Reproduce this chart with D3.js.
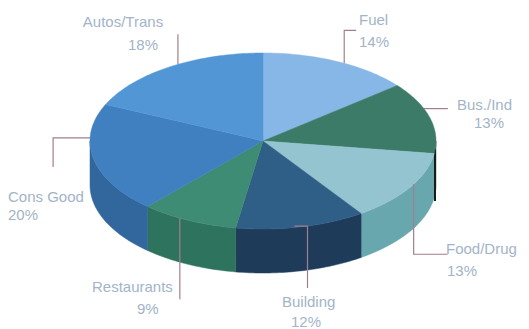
<!DOCTYPE html>
<meta charset="utf-8">
<style>
body { margin: 0; background: #fff; }
.lbl { font-family: "Liberation Sans", Arial, sans-serif; font-size: 15px; fill: #a3b4c8; }
.leader { fill: none; stroke: #a27f8e; stroke-width: 1.2; }
</style>
<svg width="529" height="329"></svg>
<script src="https://cdn.jsdelivr.net/npm/d3@7"></script>
<script>

// data, clockwise from 12 o'clock
var categories = ["Fuel", "Bus./Ind", "Food/Drug", "Building", "Restaurants", "Cons Good", "Autos/Trans"];
var shares = [14, 13, 13, 12, 9, 20, 18];
var pctLabels = ["14%", "13%", "13%", "12%", "9%", "20%", "18%"];

var topColors  = ["#87b7e6", "#3c7b67", "#93c4d0", "#2f5e86", "#3e8c73", "#407fc0", "#5296d6"];
var sideColors = ["#6d9ccc", "#2f6756", "#68a7ad", "#1e3c5a", "#2e735d", "#31679c", "#3f7bb8"];

// label layout: where on the slice the leader starts, leader bends, text spots
var layout = [
  {f: 0.55, leader: [[0, 0], [0, -33], [12, -33]], name: [359, 25, "start"], pct: [359, 47, "start"]},
  {f: 0.37, leader: [[0, 0], [24, 0]], name: [457, 110, "start"], pct: [474, 128, "start"]},
  {f: 0.45, leader: [[0, 0], [0, 70], [34, 70]], name: [446, 254, "start"], pct: [447, 276, "start"]},
  {f: 0.45, leader: [[-13, 0], [0, 0], [0, 62]], name: [282, 307, "start"], pct: [291, 327, "start"]},
  {f: 0.6, leader: [[0, 0], [0, 81]], name: [92, 292, "start"], pct: [137, 314, "start"]},
  {f: 0.69, leader: [[0, 0], [-37, 0], [-37, 29]], name: [8, 202, "start"], pct: [8, 220, "start"]},
  {f: 0.55, leader: [[0, 0], [0, -30]], name: [123, 27, "middle"], pct: [143, 50, "middle"]}
];

var svg = d3.select("svg");
var cx = 263, cy = 141, rx = 173, ry = 88, depth = 44;

// ellipse mapping through scales
var sx = d3.scaleLinear().domain([-1, 1]).range([cx - rx, cx + rx]);
var sy = d3.scaleLinear().domain([-1, 1]).range([cy + ry, cy - ry]);
function pt(a, dy) { return [sx(Math.sin(a)), sy(Math.cos(a)) + (dy || 0)]; }

var pie = d3.pie().sort(null).value(function(d) { return d; });
var arcs = pie(shares);
var line = d3.line();

function arcPts(a0, a1, dy) {
  var n = Math.max(2, Math.ceil((a1 - a0) / 0.02));
  return d3.range(n + 1).map(function(i) { return pt(a0 + (a1 - a0) * i / n, dy); });
}

// side walls (front half only)
var sides = svg.append("g");
arcs.forEach(function(d, i) {
  var a0 = Math.max(d.startAngle, Math.PI / 2), a1 = Math.min(d.endAngle, 3 * Math.PI / 2);
  if (a1 <= a0) return;
  var p = arcPts(a0, a1, 0).concat(arcPts(a0, a1, depth).reverse());
  sides.append("path")
      .attr("d", line(p) + "Z")
      .attr("fill", sideColors[i])
      .attr("stroke", sideColors[i])
      .attr("stroke-width", 0.5);
});

// dark edge on the right
svg.append("line")
    .attr("x1", sx(1) - 1).attr("x2", sx(1) - 1)
    .attr("y1", sy(0) + 8).attr("y2", sy(0) + depth + 16)
    .attr("stroke", "#1a1a1a").attr("stroke-width", 2);

// top faces
var tops = svg.append("g");
arcs.forEach(function(d, i) {
  var p = [[cx, cy]].concat(arcPts(d.startAngle, d.endAngle, 0));
  tops.append("path")
      .attr("d", line(p) + "Z")
      .attr("fill", topColors[i])
      .attr("stroke", topColors[i])
      .attr("stroke-width", 0.5);
});

// leaders and labels
arcs.forEach(function(d, i) {
  var L = layout[i];
  var a = d.startAngle + (d.endAngle - d.startAngle) * L.f;
  var o = pt(a, 0);
  svg.append("path")
      .attr("class", "leader")
      .attr("d", line(L.leader.map(function(q) { return [o[0] + q[0], o[1] + q[1]]; })));
  svg.append("text").attr("class", "lbl")
      .attr("x", L.name[0]).attr("y", L.name[1]).attr("text-anchor", L.name[2])
      .text(categories[i]);
  svg.append("text").attr("class", "lbl")
      .attr("x", L.pct[0]).attr("y", L.pct[1]).attr("text-anchor", L.pct[2])
      .text(pctLabels[i]);
});

</script>
